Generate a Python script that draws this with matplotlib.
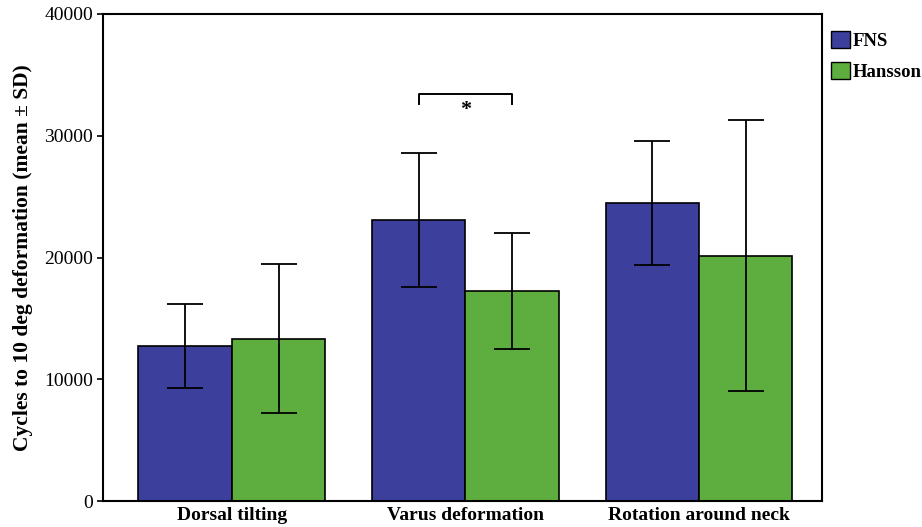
import matplotlib
matplotlib.use("Agg")
import matplotlib.pyplot as plt
import numpy as np
from matplotlib.patches import Patch

categories = ["Dorsal tilting", "Varus deformation", "Rotation around neck"]
fns_mean = [12750, 23050, 24450]
fns_sd = [3450, 5500, 5100]
hansson_mean = [13330, 17250, 20160]
hansson_sd = [6100, 4730, 11100]
yticks = [0, 10000, 20000, 30000, 40000]

plt.rcParams['font.family'] = ['Liberation Serif', 'DejaVu Serif']

fig = plt.figure(figsize=(9.22, 5.27), dpi=100)
ax = fig.add_axes([103/922, 26/527, (822-103)/922, (501-14)/527])

x = np.arange(len(categories))
w = 0.4
blue = "#3C3F9C"
green = "#5EAE3F"
ax.bar(x - w/2, fns_mean, w, color=blue, edgecolor="black", linewidth=1.2, zorder=2)
ax.bar(x + w/2, hansson_mean, w, color=green, edgecolor="black", linewidth=1.2, zorder=2)
ax.errorbar(x - w/2, fns_mean, yerr=fns_sd, fmt="none", ecolor="black", elinewidth=1.3, capsize=13, capthick=1.3, zorder=3)
ax.errorbar(x + w/2, hansson_mean, yerr=hansson_sd, fmt="none", ecolor="black", elinewidth=1.3, capsize=13, capthick=1.3, zorder=3)

# significance bracket
by = 33400
bh = 800
ax.plot([1 - w/2, 1 - w/2, 1 + w/2, 1 + w/2], [by - bh, by, by, by - bh], color="black", lw=1.4, zorder=3)
ax.text(1, by - 500, "*", ha="center", va="top", fontsize=16, fontweight="bold")

ax.set_xlim(-0.552, 2.527)
ax.set_ylim(0, 40000)
ax.set_yticks(yticks)
ax.set_yticklabels([str(t) for t in yticks], fontsize=14)
ax.set_xticks(x)
ax.set_xticklabels(categories, fontsize=14, fontweight="bold")
ax.tick_params(axis="x", length=0, pad=4)
ax.tick_params(axis="y", length=4, width=1.2, pad=3)
for s in ax.spines.values():
    s.set_linewidth(1.5)
ax.set_ylabel("Cycles to 10 deg deformation (mean ± SD)", fontsize=15.5, fontweight="bold", labelpad=8)

handles = [Patch(facecolor=blue, edgecolor="black", label="FNS"),
           Patch(facecolor=green, edgecolor="black", label="Hansson")]
leg = fig.legend(handles=handles, loc="upper left", bbox_to_anchor=(831/922, 1 - 31/527),
                 frameon=False, prop={"weight": "bold", "size": 13.5},
                 handlelength=1.0, handleheight=1.0, handletextpad=0.15, labelspacing=0.65, borderpad=0.0,
                 borderaxespad=0.0)

fig.savefig("out.png", dpi=100)
